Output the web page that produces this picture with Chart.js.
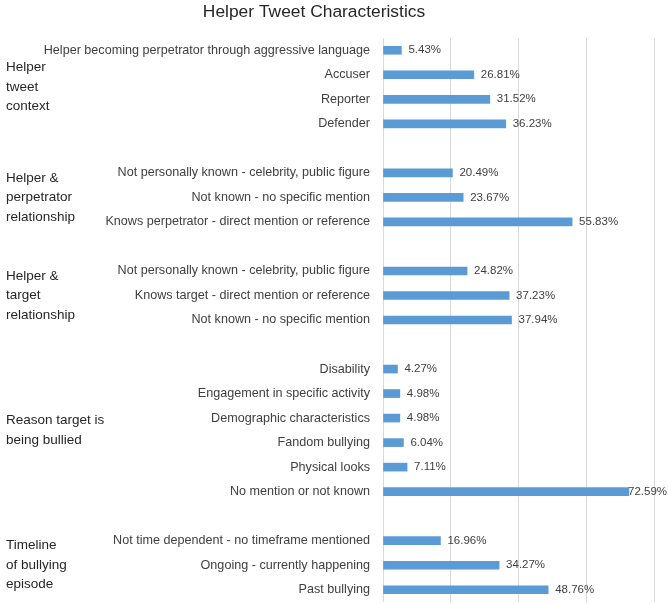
<!DOCTYPE html>
<html>
<head>
<meta charset="utf-8">
<script src="https://cdn.jsdelivr.net/npm/chart.js@4/dist/chart.umd.min.js"></script>
<style>
	html, body { margin: 0; padding: 0; background: #fff; overflow: hidden; }
	canvas { display: block; }
</style>
</head>
<body>
<canvas id="chart" width="668" height="604"></canvas>
<script>
const chart_title = 'Helper Tweet Characteristics';

// group captions (left column), one array of lines per group
const group_names = [
	['Helper', 'tweet', 'context'],
	['Helper &', 'perpetrator', 'relationship'],
	['Helper &', 'target', 'relationship'],
	['Reason target is', 'being bullied'],
	['Timeline', 'of bullying', 'episode']
];

const context_labels = ['Helper becoming perpetrator through aggressive language', 'Accuser', 'Reporter', 'Defender'];
const context_values = [5.43, 26.81, 31.52, 36.23];

const perpetrator_labels = ['Not personally known - celebrity, public figure', 'Not known - no specific mention', 'Knows perpetrator - direct mention or reference'];
const perpetrator_values = [20.49, 23.67, 55.83];

const target_labels = ['Not personally known - celebrity, public figure', 'Knows target - direct mention or reference', 'Not known - no specific mention'];
const target_values = [24.82, 37.23, 37.94];

const reason_labels = ['Disability', 'Engagement in specific activity', 'Demographic characteristics', 'Fandom bullying', 'Physical looks', 'No mention or not known'];
const reason_values = [4.27, 4.98, 4.98, 6.04, 7.11, 72.59];

const timeline_labels = ['Not time dependent - no timeframe mentioned', 'Ongoing - currently happening', 'Past bullying'];
const timeline_values = [16.96, 34.27, 48.76];

const x_ticks = [0, 20, 40, 60, 80];

// build rows with one blank row between groups
const all_labels = [context_labels, perpetrator_labels, target_labels, reason_labels, timeline_labels];
const all_values = [context_values, perpetrator_values, target_values, reason_values, timeline_values];

const labels = [];
const values = [];
const group_rows = [];
all_labels.forEach(function(group, g){
	if(g > 0){
		labels.push('');
		values.push(null);
	}
	const first = labels.length;
	group.forEach(function(lbl, i){
		labels.push(lbl);
		values.push(all_values[g][i]);
	});
	group_rows.push([first, labels.length - 1]);
});

const text_color = '#404040';
const font_family = '"Liberation Sans", Arial, sans-serif';

const value_labels = {
	id: 'value_labels',
	afterDatasetsDraw: function(chart){
		const ctx = chart.ctx;
		const meta = chart.getDatasetMeta(0);
		ctx.save();
		ctx.font = '11.5px ' + font_family;
		ctx.fillStyle = text_color;
		ctx.textAlign = 'left';
		ctx.textBaseline = 'middle';
		meta.data.forEach(function(bar, i){
			const v = values[i];
			if(v === null) return;
			const txt = v.toFixed(2) + '%';
			const w = ctx.measureText(txt).width;
			let x = bar.x + 7;
			if(x + w > chart.width - 1) x = chart.width - 1 - w;
			ctx.fillText(txt, x, bar.y);
		});
		ctx.restore();
	}
};

// left captions + title (the title sits left of centre in the original)
const captions = {
	id: 'captions',
	afterDraw: function(chart){
		const ctx = chart.ctx;
		const y = chart.scales.y;
		const line_h = 19.5;
		ctx.save();
		ctx.fillStyle = '#262626';
		ctx.textBaseline = 'middle';

		ctx.font = '17.4px ' + font_family;
		ctx.textAlign = 'center';
		ctx.fillText(chart_title, 314, 12);

		ctx.font = '13.5px ' + font_family;
		ctx.textAlign = 'left';
		group_names.forEach(function(lines, g){
			const top = y.getPixelForValue(group_rows[g][0]);
			const bottom = y.getPixelForValue(group_rows[g][1]);
			const mid = (top + bottom) / 2;
			const start = mid - (lines.length - 1) * line_h / 2;
			lines.forEach(function(line, i){
				ctx.fillText(line, 6, start + i * line_h);
			});
		});
		ctx.restore();
	}
};

const ctx = document.getElementById('chart').getContext('2d');
new Chart(ctx, {
	type: 'bar',
	data: {
		labels: labels,
		datasets: [{
			data: values,
			backgroundColor: '#5B9BD5',
			barThickness: 8
		}]
	},
	options: {
		indexAxis: 'y',
		responsive: false,
		animation: false,
		layout: {
			padding: { left: 0, right: 14, top: 38, bottom: 2 }
		},
		plugins: {
			legend: { display: false },
			tooltip: { enabled: false },
			title: { display: false }
		},
		scales: {
			x: {
				min: x_ticks[0],
				max: x_ticks[x_ticks.length - 1],
				afterBuildTicks: function(scale){
					scale.ticks = x_ticks.map(function(v){ return { value: v }; });
				},
				afterFit: function(scale){
					scale.height = 0;
				},
				ticks: { display: false },
				grid: { color: '#D9D9D9', drawTicks: false },
				border: { display: false }
			},
			y: {
				afterFit: function(scale){
					scale.width = 383;
					scale.paddingTop = 0;
					scale.paddingBottom = 0;
				},
				ticks: {
					color: text_color,
					font: { family: font_family, size: 12.6 },
					padding: 13,
					autoSkip: false
				},
				grid: { display: false, drawTicks: false },
				border: { display: false }
			}
		}
	},
	plugins: [value_labels, captions]
});
</script>
</body>
</html>
